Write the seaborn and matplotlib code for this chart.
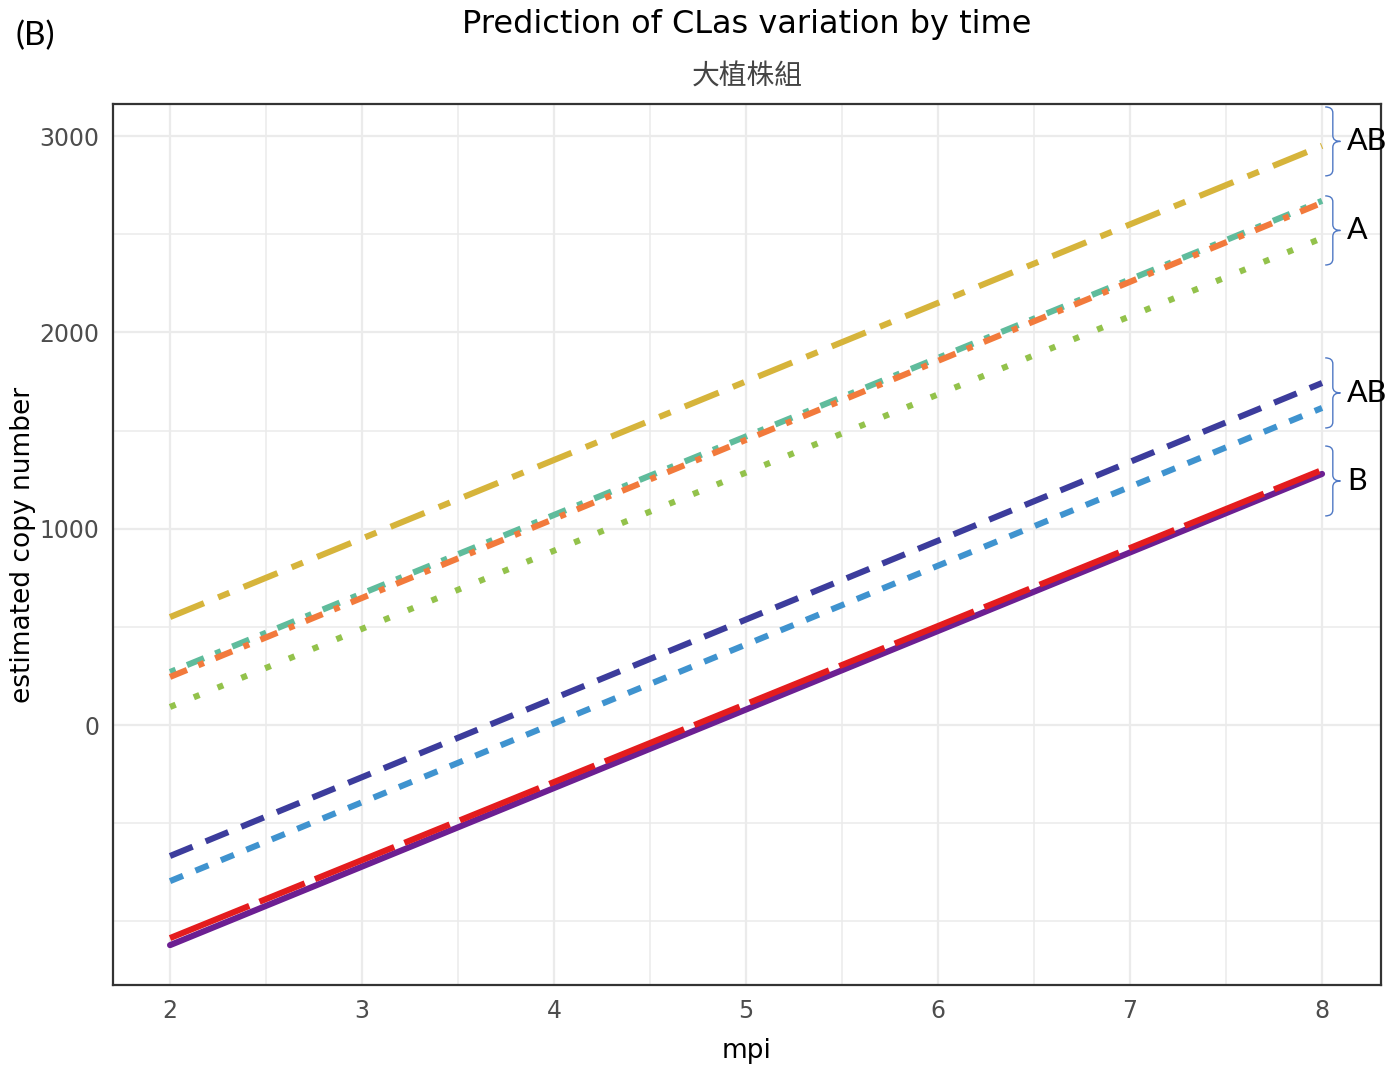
import numpy as np
import pandas as pd
import matplotlib
matplotlib.use("Agg")
import matplotlib.pyplot as plt
from matplotlib.path import Path
from matplotlib.patches import PathPatch
from matplotlib.transforms import blended_transform_factory
import seaborn as sns

# Data (straight model predictions, endpoints at 2 and 8 mpi)
MPI = [2, 8]
GROUPS = ["g1", "g2", "g3", "g4", "g5", "g6", "g7", "g8"]
START = [550, 270, 245, 92, -667, -795, -1121, -1085]
END = [2950, 2670, 2660, 2480, 1742, 1615, 1279, 1299]
COLORS = ["#D6B43B", "#5FBC9C", "#F27A3C", "#93C24B", "#3C3C9C", "#3F93CF", "#6C1F92", "#E41C1E"]
DASHES = [(6, 2.5, 2, 2.5), (1, 2, 3, 2), (3, 2, 1, 2), (1, 3.2), (4, 2.3), (2.3, 2.2), "", (14, 1.8, 8, 1.8)]

# significance brackets on the right
BRACE_LABELS = ["AB", "A", "AB", "B"]
BRACE_LOW = [2797, 2343, 1513, 1065]
BRACE_HIGH = [3148, 2695, 1870, 1421]

rows = []
for g, s, e in zip(GROUPS, START, END):
    rows.append({"group": g, "mpi": MPI[0], "copy": s})
    rows.append({"group": g, "mpi": MPI[1], "copy": e})
df = pd.DataFrame(rows)

sns.set_style("white")
plt.rcParams["font.family"] = ["DejaVu Sans", "Noto Sans CJK TC"]

fig = plt.figure(figsize=(13.87, 10.70), dpi=100)
ax = fig.add_axes([113 / 1387, 1 - 985 / 1070, 1268 / 1387, 881 / 1070])

sns.lineplot(data=df, x="mpi", y="copy", hue="group", style="group",
             hue_order=GROUPS, style_order=GROUPS,
             palette=dict(zip(GROUPS, COLORS)), dashes=dict(zip(GROUPS, DASHES)),
             linewidth=4.4, legend=False, ax=ax, zorder=3)

ax.set_xticks([2, 3, 4, 5, 6, 7, 8])
ax.set_xticks(np.arange(2.5, 8.0, 1.0), minor=True)
ax.set_yticks([0, 1000, 2000, 3000])
ax.set_yticks([-1000, -500, 500, 1500, 2500], minor=True)
ax.set_xlim(1.703, 8.307)
ax.set_ylim(-1324, 3163)
ax.grid(True, which="major", color="#EBEBEB", linewidth=1.6)
ax.grid(True, which="minor", color="#EBEBEB", linewidth=1.1)
ax.tick_params(which="major", length=6, width=1.3, color="#333333",
               labelsize=17, labelcolor="#4D4D4D", pad=4)
ax.tick_params(which="minor", length=0)
for sp in ax.spines.values():
    sp.set_color("#333333")
    sp.set_linewidth(1.6)

ax.set_xlabel("mpi", fontsize=19, color="black", labelpad=11)
ax.set_ylabel("estimated copy number", fontsize=19, color="black", labelpad=2)

# curly braces with group letters
tr = blended_transform_factory(ax.transAxes, ax.transData)
xh, xv, xt = 0.956, 0.962, 0.968
for lab, lo, hi in zip(BRACE_LABELS, BRACE_LOW, BRACE_HIGH):
    mid = (lo + hi) / 2
    d = 30
    verts = [(xh, hi), (xv, hi), (xv, hi - d), (xv, hi - d),
             (xv, mid + d), (xv, mid), (xt, mid),
             (xv, mid), (xv, mid - d), (xv, mid - d),
             (xv, lo + d), (xv, lo), (xh, lo)]
    codes = [Path.MOVETO, Path.CURVE3, Path.CURVE3, Path.LINETO,
             Path.LINETO, Path.CURVE3, Path.CURVE3,
             Path.CURVE3, Path.CURVE3, Path.LINETO,
             Path.LINETO, Path.CURVE3, Path.CURVE3]
    ax.add_patch(PathPatch(Path(verts, codes), transform=tr, fill=False,
                           edgecolor="#4F78C4", linewidth=1.0, clip_on=False, zorder=5))
    ax.text(0.973, mid, lab, transform=tr, ha="left", va="center", fontsize=22,
            family="Lato", color="black", clip_on=False, zorder=6)

fig.text(0.5385, 1 - 25 / 1070, "Prediction of CLas variation by time", ha="center",
         va="center", fontsize=23, color="black")
fig.text(0.5385, 1 - 77 / 1070, "大植株組", ha="center", va="center", fontsize=20,
         color="#444444", family=["Noto Sans CJK TC", "DejaVu Sans"])
fig.text(0.011, 1 - 36 / 1070, "(B)", ha="left", va="center", fontsize=24,
         family="Lato", color="black")

fig.savefig("out.png", dpi=100)
